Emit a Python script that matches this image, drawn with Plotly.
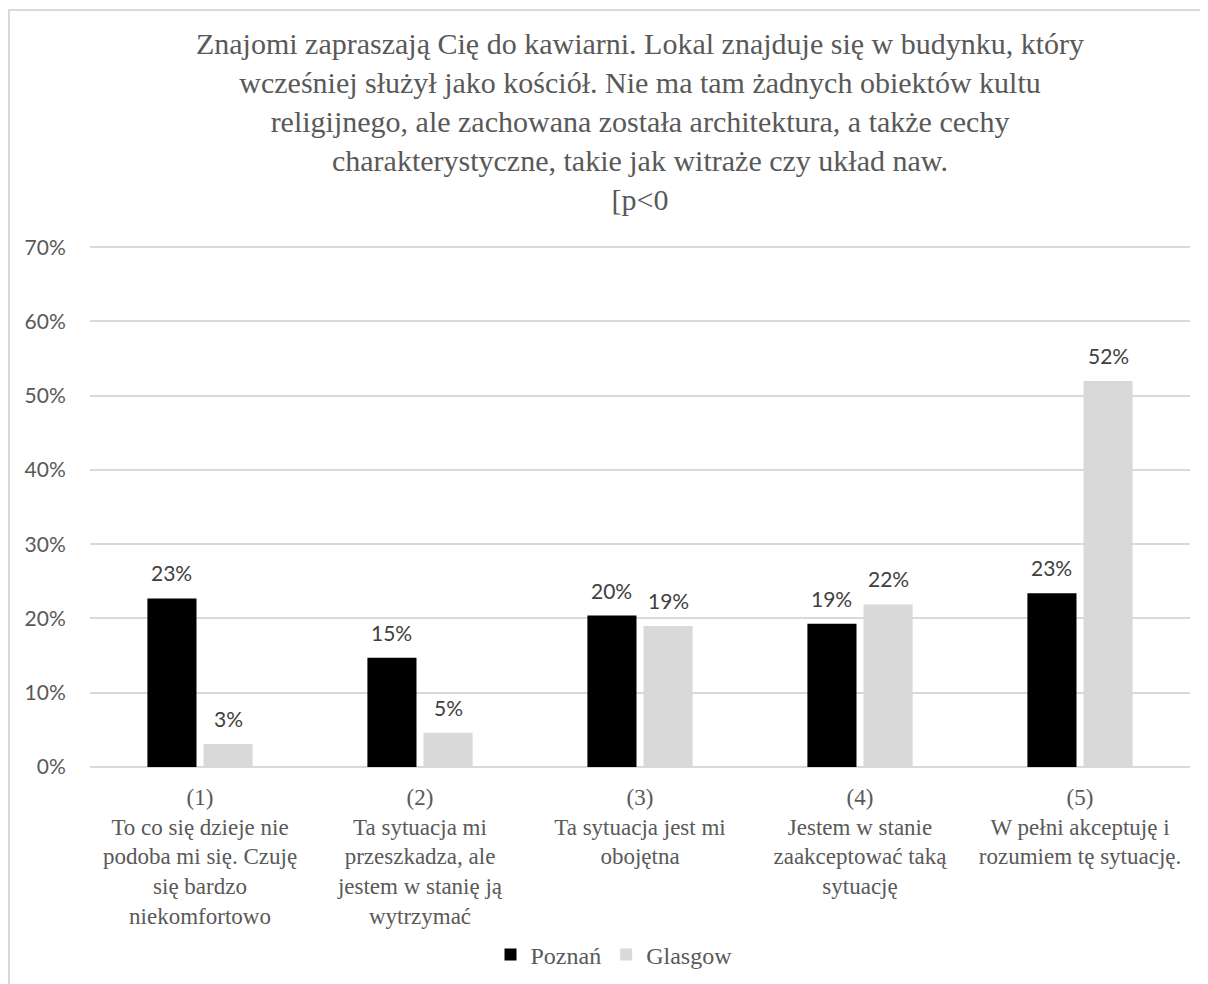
import plotly.graph_objects as go

categories = [
    "(1)<br>To co się dzieje nie<br>podoba mi się. Czuję<br>się bardzo<br>niekomfortowo",
    "(2)<br>Ta sytuacja mi<br>przeszkadza, ale<br>jestem w stanię ją<br>wytrzymać",
    "(3)<br>Ta sytuacja jest mi<br>obojętna",
    "(4)<br>Jestem w stanie<br>zaakceptować taką<br>sytuację",
    "(5)<br>W pełni akceptuję i<br>rozumiem tę sytuację.",
]
poznan = [0.227, 0.147, 0.204, 0.193, 0.234]
glasgow = [0.031, 0.046, 0.190, 0.219, 0.520]
series_names = ["Poznań", "Glasgow"]
series_colors = ["#000000", "#d9d9d9"]
y_ticks = [0, 0.1, 0.2, 0.3, 0.4, 0.5, 0.6, 0.7]

title_text = ("Znajomi zapraszają Cię do kawiarni. Lokal znajduje się w budynku, który<br>"
              "wcześniej służył jako kościół. Nie ma tam żadnych obiektów kultu<br>"
              "religijnego, ale zachowana została architektura, a także cechy<br>"
              "charakterystyczne, takie jak witraże czy układ naw.<br>"
              "[p&lt;0")

SERIF = "Liberation Serif, Times New Roman, serif"
SANS = "Lato, Open Sans, sans-serif"
BARGAP = 0.49
W, H = 1200, 976
L, R, T, B = 82, 18, 237, 217
PW, PH = W - L - R, H - T - B

fig = go.Figure()
idx = list(range(len(categories)))
for name, vals, col in zip(series_names, [poznan, glasgow], series_colors):
    fig.add_trace(go.Bar(x=idx, y=vals, name=name, marker=dict(color=col, line=dict(width=0)),
                         hoverinfo="skip"))

# data labels
half = (1 - BARGAP) / 4
for s, vals in enumerate([poznan, glasgow]):
    off = -half if s == 0 else half
    for i, v in enumerate(vals):
        fig.add_annotation(x=i + off, y=v, text=f"{round(v*100):.0f}%", showarrow=False,
                           yanchor="bottom", yshift=11,
                           font=dict(family=SANS, size=21, color="#404040"))

fig.update_layout(
    width=W, height=H,
    paper_bgcolor="white", plot_bgcolor="white",
    margin=dict(l=L, r=R, t=T, b=B, autoexpand=False),
    barmode="group", bargap=BARGAP, bargroupgap=0.125,
    title=dict(text=title_text, x=0.5, xanchor="center", xref="paper",
               y=1 - 46 / H, yanchor="top", yref="container",
               font=dict(family=SERIF, size=30, color="#595959")),
    legend=dict(orientation="h", x=0.505, xanchor="center", xref="container",
                y=1 - 947 / H, yanchor="middle", yref="container",
                font=dict(family=SERIF, size=24, color="#595959"),
                itemwidth=30, traceorder="normal"),
    xaxis=dict(tickmode="array", tickvals=idx, ticktext=categories,
               range=[-0.5, len(categories) - 0.5], automargin=False,
               tickfont=dict(family=SERIF, size=23, color="#595959"),
               ticks="outside", ticklen=9, tickcolor="rgba(0,0,0,0)",
               showline=False, showgrid=False, zeroline=False, fixedrange=True),
    yaxis=dict(range=[0, 0.703], tickvals=y_ticks, tickformat=".0%", automargin=False,
               tickfont=dict(family=SANS, size=21, color="#595959"),
               ticks="outside", ticklen=19, tickcolor="rgba(0,0,0,0)",
               showgrid=True, gridcolor="#d9d9d9", gridwidth=1.5,
               zeroline=True, zerolinecolor="#d9d9d9", zerolinewidth=1.5,
               showline=False, fixedrange=True),
    shapes=[dict(type="rect", xref="paper", yref="paper",
                 x0=(1 - L) / PW, x1=1 + 40 / PW, y0=-300 / PH, y1=1 + (T - 2) / PH,
                 line=dict(color="#d9d9d9", width=2), fillcolor="rgba(0,0,0,0)", layer="below")],
)

fig.write_html("out.html")
